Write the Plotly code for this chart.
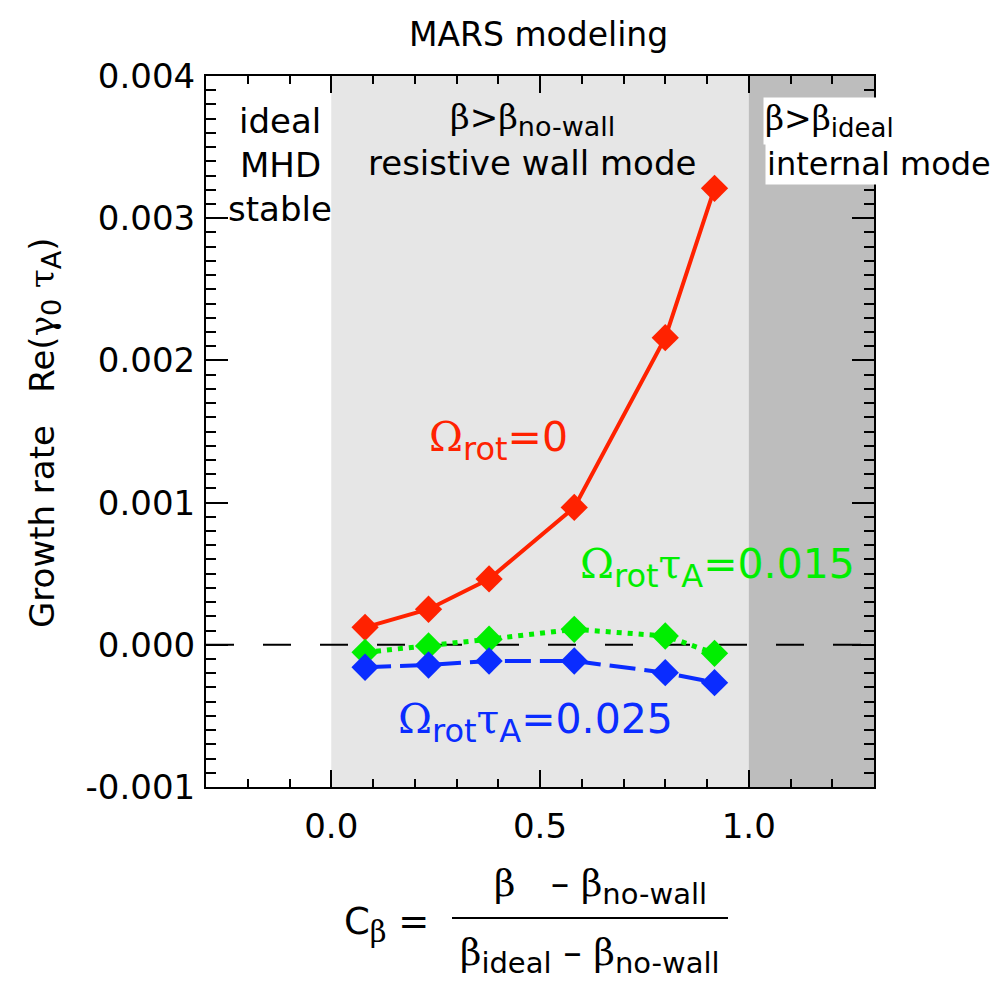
import plotly.graph_objects as go

# ---------------- data ----------------
c_beta = [0.081, 0.233, 0.378, 0.582, 0.800, 0.918]
growth_rot0 = [0.000123, 0.000250, 0.000463, 0.000966, 0.002160, 0.003210]
growth_rot015 = [-0.000053, -0.000008, 0.000039, 0.000109, 0.000062, -0.000060]
growth_rot025 = [-0.000158, -0.000142, -0.000114, -0.000114, -0.000196, -0.000266]

x_tickvals = [0.0, 0.5, 1.0]
x_ticktext = ["0.0", "0.5", "1.0"]
y_tickvals = [-0.001, 0.0, 0.001, 0.002, 0.003, 0.004]
y_ticktext = ["-0.001", "0.000", "0.001", "0.002", "0.003", "0.004"]

x_range = [-0.3, 1.3]
y_range = [-0.001, 0.004]
region_bounds = [0.0, 1.0]

RED = "#ff2200"
GREEN = "#00ee00"
BLUE = "#0a2cff"
FONT = "DejaVu Sans, Verdana, sans-serif"
SERIF = "DejaVu Serif, serif"
FS = 34

# plot-area geometry (pixels)
W, H = 1005, 982
L, R, T, B = 198, 866, 68, 779


def px(xp, yp):
    """pixel -> paper coordinates (for layout items only)"""
    return (xp - L) / (R - L), (B - yp) / (B - T)


def g(ch):
    return f"<span style='font-family:{SERIF}'>{ch}</span>"


def sub(txt, size):
    return f"<sub><span style='font-size:{size}px'>{txt}</span></sub>"


fig = go.Figure()

# shaded regions
fig.add_shape(type="rect", xref="x", yref="paper", x0=region_bounds[0], x1=region_bounds[1],
              y0=0, y1=1, fillcolor="#e6e6e6", line_width=0, layer="below")
fig.add_shape(type="rect", xref="x", yref="paper", x0=region_bounds[1], x1=x_range[1],
              y0=0, y1=1, fillcolor="#bdbdbd", line_width=0, layer="below")

# zero line
fig.add_trace(go.Scatter(x=x_range, y=[0, 0], mode="lines",
                         line=dict(color="black", width=2, dash="28px,29px"),
                         hoverinfo="skip", showlegend=False))

fig.add_trace(go.Scatter(x=c_beta, y=growth_rot0, mode="lines+markers",
                         line=dict(color=RED, width=4),
                         marker=dict(symbol="diamond", size=21, color=RED),
                         showlegend=False))
fig.add_trace(go.Scatter(x=c_beta, y=growth_rot015, mode="lines+markers",
                         line=dict(color=GREEN, width=5, dash="5px,6px"),
                         marker=dict(symbol="diamond", size=21, color=GREEN),
                         showlegend=False))
fig.add_trace(go.Scatter(x=c_beta, y=growth_rot025, mode="lines+markers",
                         line=dict(color=BLUE, width=4, dash="26px,9px"),
                         marker=dict(symbol="diamond", size=21, color=BLUE),
                         showlegend=False))

annotations = []


def ann(text, xp, yp, xanchor="center", yanchor="middle", color="black", size=FS, **kw):
    xx, yy = px(xp, yp)
    annotations.append(dict(text=text, x=xx, y=yy, xref="paper", yref="paper",
                            xanchor=xanchor, yanchor=yanchor, showarrow=False,
                            font=dict(family=FONT, size=size, color=color), **kw))


# title
ann("MARS modeling", 530, 26, size=33)

# region labels
ann("ideal", 272, 113)
ann("MHD", 272, 157)
ann("stable", 272, 201)
ann(f"{g('β')}&gt;{g('β')}{sub('no-wall', 27)}", 524, 112)
ann("resistive wall mode", 524, 155)
ann(f"{g('β')}&gt;{g('β')}{sub('ideal', 26)}", 755, 113, xanchor="left",
    bgcolor="white", borderpad=1, size=33)
ann("internal mode", 757, 156, xanchor="left", bgcolor="white", borderpad=1, size=32)

# series labels
SL = 41
ann(f"{g('Ω')}{sub('rot', 32)}=0", 419, 432, xanchor="left", color=RED, size=SL)
ann(f"{g('Ω')}{sub('rot', 32)}{g('τ')}{sub('A', 32)}=0.015", 570, 559,
    xanchor="left", color=GREEN, size=SL)
ann(f"{g('Ω')}{sub('rot', 32)}{g('τ')}{sub('A', 32)}=0.025", 388, 714,
    xanchor="left", color=BLUE, size=SL)

# y-axis title
ann(f"Growth rate\u00a0\u00a0\u00a0Re({g('γ')}{sub('0', 27)} {g('τ')}{sub('A', 27)})",
    36, 425, textangle=-90)

# x-axis title (fraction)
FF = 37
ann(f"C{sub(g('β'), 29)} =", 378, 916, size=FF)
ann(f"{g('β')}\u00a0\u00a0\u00a0\u2013 {g('β')}{sub('no-wall', 29)}", 592, 878, size=FF)
ann(f"{g('β')}{sub('ideal', 29)} \u2013 {g('β')}{sub('no-wall', 29)}", 582, 947, size=FF)
fx0, fy = px(444, 910)
fx1, _ = px(720, 910)
fig.add_shape(type="line", xref="paper", yref="paper", x0=fx0, x1=fx1, y0=fy, y1=fy,
              line=dict(color="black", width=2))

axis_common = dict(showline=True, linecolor="black", linewidth=2, mirror="allticks",
                   ticks="inside", tickcolor="black", tickwidth=2,
                   showgrid=False, zeroline=False,
                   tickfont=dict(family=FONT, size=FS, color="black"))

fig.update_xaxes(range=x_range, tickvals=x_tickvals, ticktext=x_ticktext, ticklen=17,
                 minor=dict(dtick=0.1, ticks="inside", ticklen=8, tickwidth=2, tickcolor="black",
                            showgrid=False),
                 ticklabelstandoff=8, **axis_common)
fig.update_yaxes(range=y_range, tickvals=y_tickvals, ticktext=y_ticktext, ticklen=22,
                 minor=dict(dtick=0.0001, ticks="inside", ticklen=10, tickwidth=2, tickcolor="black",
                            showgrid=False),
                 ticklabelstandoff=2, **axis_common)

fig.update_layout(width=W, height=H, margin=dict(l=L, r=W - R, t=T, b=H - B),
                  paper_bgcolor="white", plot_bgcolor="white",
                  annotations=annotations, showlegend=False,
                  font=dict(family=FONT, size=FS, color="black"))

fig.write_html("out.html")
